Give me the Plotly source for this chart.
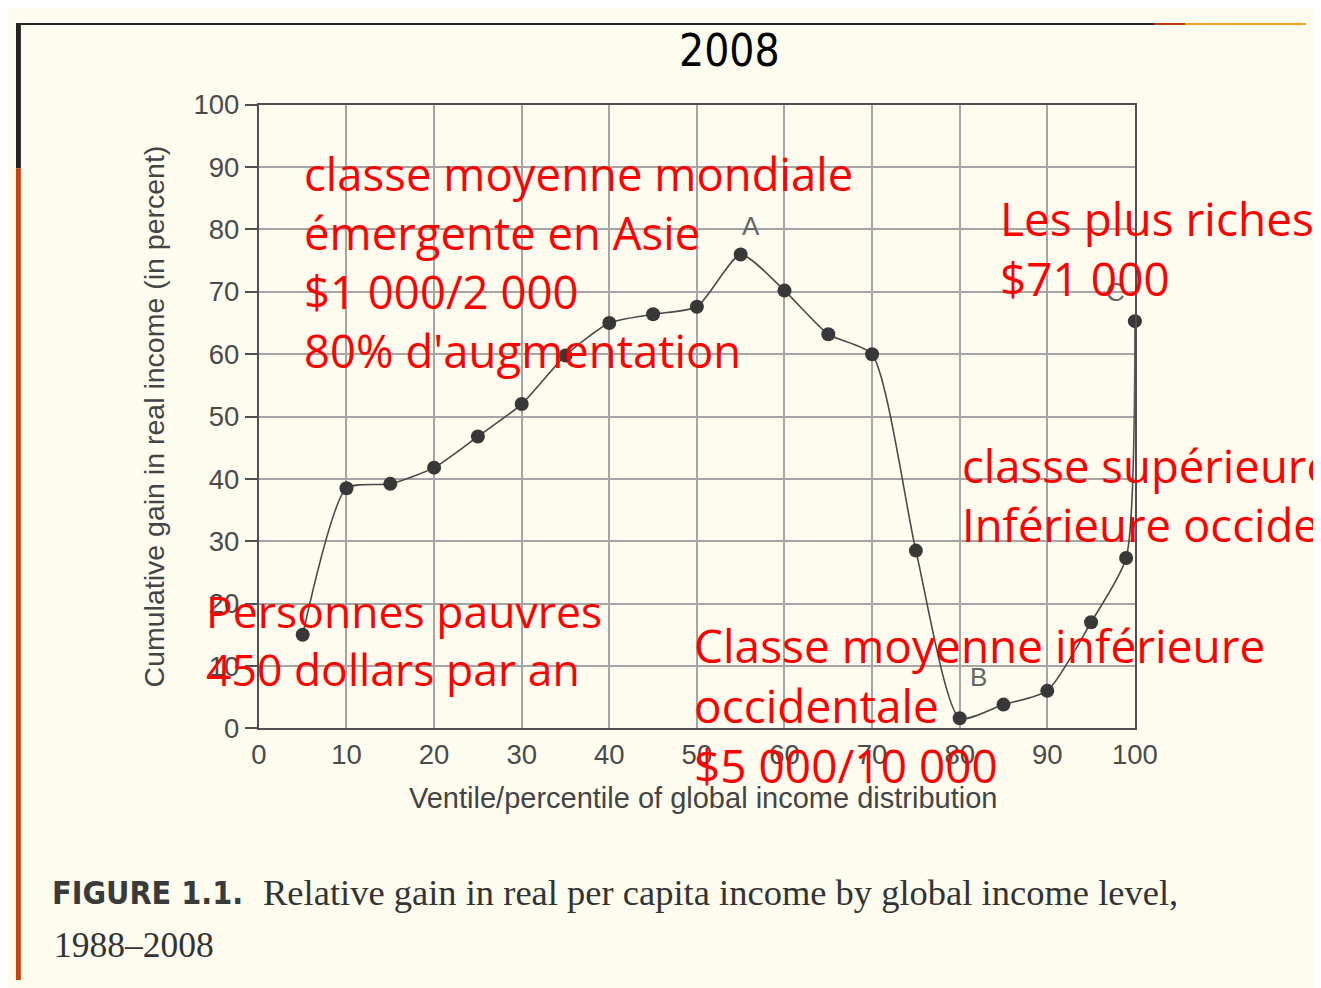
import plotly.graph_objects as go

# ---- data ----
percentiles = [5, 10, 15, 20, 25, 30, 35, 40, 45, 50, 55, 60, 65, 70, 75, 80, 85, 90, 95, 99, 100]
gain = [15.0, 38.5, 39.2, 41.8, 46.8, 52.0, 59.8, 65.0, 66.4, 67.6, 76.0, 70.2, 63.2, 60.0, 28.5, 1.6, 3.8, 6.0, 17.0, 27.3, 65.3]
tick_vals = [0, 10, 20, 30, 40, 50, 60, 70, 80, 90, 100]
point_labels = ["A", "B", "C"]
point_label_x = [56.2, 82.2, 97.8]
point_label_y = [80.5, 8.3, 70.0]

title_text = "2008"
y_title = "Cumulative gain in real income (in percent)"
x_title = "Ventile/percentile of global income distribution"
caption_bold = "FIGURE 1.1."
caption_line1 = "Relative gain in real per capita income by global income level,"
caption_line2 = "1988–2008"
red_notes = [
    "classe moyenne mondiale<br>émergente en Asie<br>$1 000/2 000<br>80% d'augmentation",
    "Les plus riches<br>$71 000",
    "classe supérieure<br>Inférieure occidentale",
    "Personnes pauvres<br>450 dollars par an",
    "Classe moyenne inférieure<br>occidentale<br>$5 000/10 000",
]

W, H = 1321, 988
BG = "#fdfcef"
# the page photograph is shifted and slightly shrunk; compensate
OX, SX = 13.0, 0.981
OY, SY = 21.0, 0.971


def fx(P):
    return (P - OX) / SX / W


def fy(P):
    return 1 - (P - OY) / SY / H


fig = go.Figure()
fig.add_trace(go.Scatter(
    x=percentiles, y=gain, mode="lines+markers",
    line=dict(color="#4a4a4a", width=1.6, shape="spline", smoothing=0.6),
    marker=dict(color="#383838", size=14),
    cliponaxis=False, showlegend=False,
))

annotations = []
for t, xx, yy in zip(point_labels, point_label_x, point_label_y):
    annotations.append(dict(x=xx, y=yy, xref="x", yref="y", text=t, showarrow=False,
                            font=dict(family="Liberation Sans, Arial", size=26, color="#666666")))

annotations.append(dict(x=fx(730), y=1, xref="paper", yref="paper", text=title_text,
                        showarrow=False, xanchor="center", yanchor="top",
                        font=dict(family="Liberation Sans Narrow, DejaVu Sans Condensed, Liberation Sans", size=44, color="#000000")))
annotations.append(dict(x=fx(152), y=fy(415), xref="paper", yref="paper", text=y_title,
                        showarrow=False, textangle=-90, xanchor="center", yanchor="middle",
                        font=dict(family="Liberation Sans, Arial", size=28.5, color="#444444")))
annotations.append(dict(x=fx(703), y=fy(798), xref="paper", yref="paper", text=x_title,
                        showarrow=False, xanchor="center", yanchor="middle",
                        font=dict(family="Liberation Sans, Arial", size=29, color="#444444")))
annotations.append(dict(x=fx(47), y=fy(893), xref="paper", yref="paper", text="<b>" + caption_bold + "</b>",
                        showarrow=False, xanchor="left", yanchor="middle",
                        font=dict(family="Liberation Sans Narrow, DejaVu Sans Condensed", size=32, color="#3a3a3a")))
annotations.append(dict(x=fx(259), y=fy(893), xref="paper", yref="paper", text=caption_line1,
                        showarrow=False, xanchor="left", yanchor="middle",
                        font=dict(family="Liberation Serif, Times New Roman", size=36.5, color="#333333")))
annotations.append(dict(x=fx(49), y=fy(945), xref="paper", yref="paper", text=caption_line2,
                        showarrow=False, xanchor="left", yanchor="middle",
                        font=dict(family="Liberation Serif, Times New Roman", size=35.5, color="#333333")))

# desired left edge of text and vertical centre of each red block (reference pixels)
note_pos = [(305, 263.5), (1004, 249.5), (966, 496.5), (207, 642), (697, 708)]
note_size = [45.5, 46, 45.5, 44.5, 46]
for txt, (L, C), sz in zip(red_notes, note_pos, note_size):
    annotations.append(dict(x=fx(L) - 5 / W, y=fy(C - 3), xref="paper", yref="paper", text=txt,
                            showarrow=False, xanchor="left", yanchor="middle", align="left",
                            font=dict(family="Open Sans, DejaVu Sans", size=sz, color="#ff0000")))

shapes = [
    dict(type="rect", xref="paper", yref="paper", x0=0, x1=5 / W, y0=1, y1=1 - 150 / H,
         fillcolor="#222222", line_width=0, layer="above"),
    dict(type="rect", xref="paper", yref="paper", x0=0, x1=5 / W, y0=1 - 150 / H, y1=0,
         fillcolor="#c8430c", line_width=0, layer="above"),
    dict(type="rect", xref="paper", yref="paper", x0=5 / W, x1=fx(1157), y0=1, y1=1 - 2 / H,
         fillcolor="#222222", line_width=0, layer="above"),
    dict(type="rect", xref="paper", yref="paper", x0=fx(1157), x1=fx(1188), y0=1, y1=1 - 2 / H,
         fillcolor="#c0300a", line_width=0, layer="above"),
    dict(type="rect", xref="paper", yref="paper", x0=fx(1188), x1=1, y0=1, y1=1 - 2 / H,
         fillcolor="#f0a020", line_width=0, layer="above"),
]

tickfont = dict(family="Liberation Sans, Arial", size=27.5, color="#4a4a4a")
fig.update_layout(
    width=W, height=H, autosize=False,
    margin=dict(l=0, r=0, t=0, b=0),
    paper_bgcolor=BG, plot_bgcolor=BG,
    annotations=annotations, shapes=shapes,
    xaxis=dict(domain=[fx(257), fx(1137)], range=[0, 100], tickvals=tick_vals,
               showgrid=True, gridcolor="#a5a5a5", gridwidth=1.6,
               showline=True, linecolor="#505050", linewidth=2, mirror=True,
               ticks="", ticklabelstandoff=1, zeroline=False, tickfont=tickfont),
    yaxis=dict(domain=[fy(728), fy(103)], range=[0, 100], tickvals=tick_vals,
               showgrid=True, gridcolor="#a5a5a5", gridwidth=1.6,
               showline=True, linecolor="#505050", linewidth=2, mirror=True,
               ticks="outside", ticklen=12, tickcolor="#505050", tickwidth=1.5, zeroline=False,
               tickfont=tickfont),
)

fig.write_html("out.html")
